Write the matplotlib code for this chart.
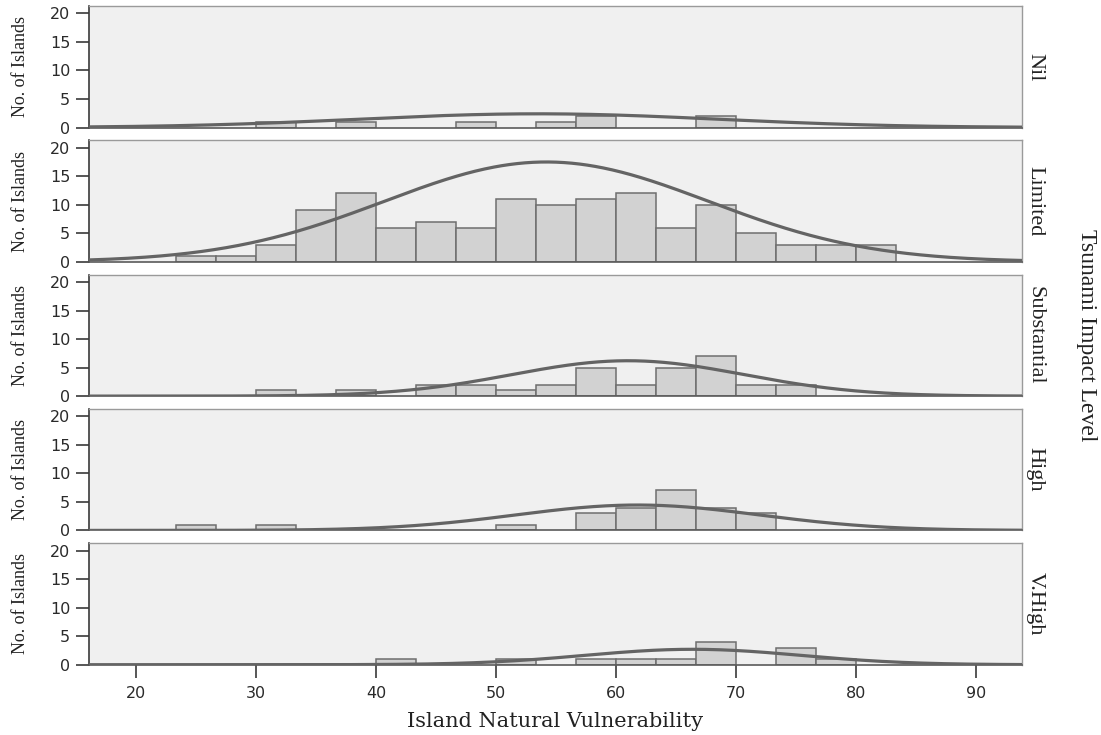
import numpy as np
import matplotlib
matplotlib.use("Agg")
import matplotlib.pyplot as plt

# Histogram bins: width 10/3 starting at 23.33
bin_start = 70 / 3
bin_width = 10 / 3

levels = ["Nil", "Limited", "Substantial", "High", "V.High"]

counts_nil = [0, 0, 1, 0, 1, 0, 0, 1, 0, 1, 2, 0, 0, 2, 0, 0, 0, 0]
counts_limited = [1, 1, 3, 9, 12, 6, 7, 6, 11, 10, 11, 12, 6, 10, 5, 3, 3, 3]
counts_substantial = [0, 0, 1, 0, 1, 0, 2, 2, 1, 2, 5, 2, 5, 7, 2, 2, 0, 0]
counts_high = [1, 0, 1, 0, 0, 0, 0, 0, 1, 0, 3, 4, 7, 4, 3, 0, 0, 0]
counts_vhigh = [0, 0, 0, 0, 0, 1, 0, 0, 1, 0, 1, 1, 1, 4, 0, 3, 1, 0]

# Fitted normal curves: mean, standard deviation, peak height
curve_mean = [53.5, 54.2, 61.0, 61.8, 66.4]
curve_sd = [15.0, 13.5, 9.7, 10.2, 9.0]
curve_peak = [2.4, 17.5, 6.2, 4.45, 2.7]

x_ticks = [20, 30, 40, 50, 60, 70, 80, 90]
y_ticks = [0, 5, 10, 15, 20]

all_counts = [counts_nil, counts_limited, counts_substantial, counts_high, counts_vhigh]

W, H = 1101, 735
fig = plt.figure(figsize=(W / 100, H / 100), dpi=100)
fig.patch.set_facecolor("white")

left_px, right_px = 89, 1022
top0_px, step_px, height_px = 6, 134.3, 121.5
axw_px = right_px - left_px

serif_cond = "Liberation Serif"
serif_wide = "DejaVu Serif"
tick_font = "DejaVu Sans"

xmin, xmax = 16.07, 93.85
xs = np.linspace(xmin, xmax, 600)

axes = []
for i, (name, counts) in enumerate(zip(levels, all_counts)):
    top = top0_px + i * step_px
    ax = fig.add_axes([left_px / W, 1 - (top + height_px) / H,
                       axw_px / W, height_px / H])
    ax.set_facecolor("#f0f0f0")
    edges = bin_start + bin_width * np.arange(len(counts))
    c = np.array(counts, dtype=float)
    mask = c > 0
    ax.bar(edges[mask], c[mask], width=bin_width, align="edge",
           color="#d2d2d2", edgecolor="#6e6e6e", linewidth=1.1, zorder=2)
    ys = curve_peak[i] * np.exp(-0.5 * ((xs - curve_mean[i]) / curve_sd[i]) ** 2)
    ax.plot(xs, ys, color="#646464", linewidth=2.3, zorder=3,
            solid_capstyle="butt")
    ax.set_xlim(xmin, xmax)
    ax.set_ylim(0, 21.3)
    ax.set_yticks(y_ticks)
    ax.set_xticks(x_ticks)
    for s in ["top", "right"]:
        ax.spines[s].set_color("#9a9a9a")
        ax.spines[s].set_linewidth(1.0)
    ax.spines["left"].set_color("#3a3a3a")
    ax.spines["left"].set_linewidth(1.2)
    ax.spines["bottom"].set_color("#5a5a5a")
    ax.spines["bottom"].set_linewidth(1.2)
    ax.tick_params(axis="y", direction="out", length=9.5, width=1.2,
                   color="#3a3a3a", pad=4, labelsize=11.5,
                   labelcolor="#2a2a2a")
    for lab in ax.get_yticklabels():
        lab.set_family(tick_font)
    if i < len(levels) - 1:
        ax.tick_params(axis="x", bottom=False, labelbottom=False)
    else:
        ax.tick_params(axis="x", direction="out", length=9, width=1.2,
                       color="#3a3a3a", pad=6, labelsize=11.5,
                       labelcolor="#2a2a2a")
        for lab in ax.get_xticklabels():
            lab.set_family(tick_font)
    ax.set_ylabel("No. of Islands", family=serif_cond, fontsize=13,
                  color="#222222")
    ax.yaxis.set_label_coords((29 - left_px) / axw_px, 0.5)
    ax.text(1.0 + 13 / axw_px, 0.5, name, transform=ax.transAxes,
            rotation=270, ha="center", va="center", family=serif_cond,
            fontsize=16, color="#222222")
    axes.append(ax)

axes[-1].set_xlabel("Island Natural Vulnerability", family=serif_wide,
                    fontsize=15, color="#222222", labelpad=8)

fig.text(1087 / W, 1 - 335 / H, "Tsunami Impact Level", rotation=270,
         ha="center", va="center", family=serif_cond, fontsize=17,
         color="#222222")

fig.savefig("out.png", dpi=100, facecolor="white")
